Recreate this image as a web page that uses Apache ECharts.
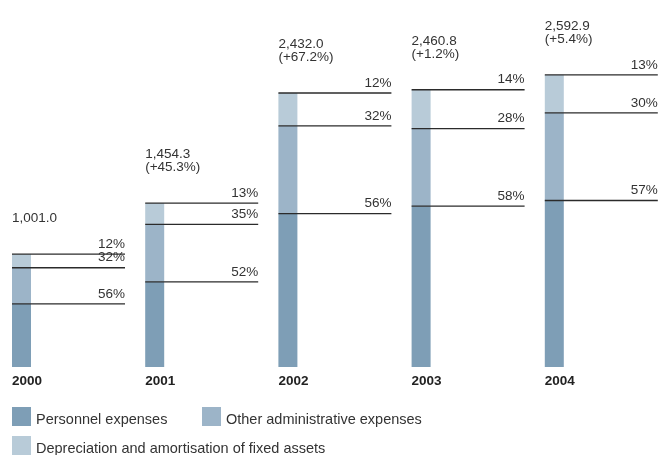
<!DOCTYPE html>
<html>
<head>
<meta charset="utf-8">
<title>Operating expenses 2000–2004</title>
<script src="https://cdn.jsdelivr.net/npm/echarts@6/dist/echarts.min.js"></script>
<style>
  html, body { margin: 0; padding: 0; background: #ffffff; }
  #chart { width: 659px; height: 455px; }
</style>
</head>
<body>
<div id="chart"></div>
<script>
// Years shown under the bars
const years = ['2000', '2001', '2002', '2003', '2004'];
// Total operating expenses per year
const totals = [1001.0, 1454.3, 2432.0, 2460.8, 2592.9];
// Year-on-year change of the total, in percent (none for the first year)
const growth = [null, 45.3, 67.2, 1.2, 5.4];
// Share of each component in the total, in percent
const personnelPct = [56, 52, 56, 58, 57];
const otherPct = [32, 35, 32, 28, 30];
const deprPct = [12, 13, 12, 14, 13];

const seriesNames = [
  'Personnel expenses',
  'Other administrative expenses',
  'Depreciation and amortisation of fixed assets'
];
const colors = ['#7e9eb6', '#9cb4c8', '#b8cbd8'];

const FONT = "'Liberation Sans', Arial, sans-serif";
const TEXT = '#333333';
const BAR_W = 19;
const LINE_LEN = 113;

// Stack the three components: [x, bottom, top, pct]
const shares = [personnelPct, otherPct, deprPct];
const stacked = shares.map(() => []);
totals.forEach((t, i) => {
  let base = 0;
  shares.forEach((arr, k) => {
    const v = t * arr[i] / 100;
    stacked[k].push([i, base, base + v, arr[i]]);
    base += v;
  });
});

function segmentRenderer(color) {
  return function (params, api) {
    const x = api.value(0);
    const lo = api.coord([x, api.value(1)]);
    const hi = api.coord([x, api.value(2)]);
    const pct = api.value(3);
    return {
      type: 'group',
      children: [
        {
          type: 'rect',
          z2: 1,
          shape: { x: lo[0], y: hi[1], width: BAR_W, height: lo[1] - hi[1] },
          style: { fill: color }
        },
        {
          type: 'line',
          z2: 10,
          shape: { x1: lo[0], y1: hi[1], x2: lo[0] + LINE_LEN, y2: hi[1] },
          style: { stroke: '#2b2b2b', lineWidth: 1.3 }
        },
        {
          type: 'text',
          z2: 10,
          style: {
            text: pct + '%',
            x: lo[0] + LINE_LEN,
            y: hi[1] - 3,
            align: 'right',
            verticalAlign: 'bottom',
            fill: TEXT,
            fontSize: 13.5,
            fontFamily: FONT
          }
        }
      ]
    };
  };
}

const fmtTotal = v => v.toLocaleString('en-US', { minimumFractionDigits: 1, maximumFractionDigits: 1 });
const totalData = totals.map((t, i) => [i, t]);

function totalRenderer(params, api) {
  const x = api.value(0);
  const p = api.coord([x, api.value(1)]);
  const g = growth[params.dataIndex];
  const text = fmtTotal(totals[params.dataIndex]) +
    (g == null ? '' : '\n(+' + g.toFixed(1) + '%)');
  return {
    type: 'text',
    style: {
      text: text,
      x: p[0],
      y: p[1] - 29,
      align: 'left',
      verticalAlign: 'bottom',
      lineHeight: 13,
      fill: TEXT,
      fontSize: 13.5,
      fontFamily: FONT
    }
  };
}

const legendBase = {
  itemWidth: 19,
  itemHeight: 19,
  padding: 0,
  icon: 'rect',
  selectedMode: false,
  formatter: name => '{t|' + name + '}',
  textStyle: {
    color: TEXT,
    fontSize: 14.5,
    fontFamily: FONT,
    rich: {
      t: { color: TEXT, fontSize: 14.5, fontFamily: FONT, padding: [7, 0, 0, 0] }
    }
  }
};

const chart = echarts.init(document.getElementById('chart'), null, { renderer: 'canvas' });
chart.setOption({
  animation: false,
  backgroundColor: '#ffffff',
  grid: { left: 12, width: 666, top: 29, height: 338, outerBoundsMode: 'none', containLabel: false },
  legend: [
    Object.assign({}, legendBase, { data: [seriesNames[0]], left: 12, top: 407 }),
    Object.assign({}, legendBase, { data: [seriesNames[1]], left: 202, top: 407 }),
    Object.assign({}, legendBase, { data: [seriesNames[2]], left: 12, top: 436 })
  ],
  xAxis: {
    type: 'value',
    min: 0,
    max: 5,
    interval: 1,
    axisLine: { show: false },
    axisTick: { show: false },
    splitLine: { show: false },
    axisLabel: {
      align: 'left',
      margin: 7,
      color: '#222222',
      fontSize: 13.5,
      fontWeight: 'bold',
      fontFamily: FONT,
      formatter: v => (Number.isInteger(v) && years[v]) ? years[v] : ''
    }
  },
  yAxis: {
    type: 'value',
    min: 0,
    max: 3000,
    show: false
  },
  series: [
    ...seriesNames.map((name, k) => ({
      name: name,
      type: 'custom',
      renderItem: segmentRenderer(colors[k]),
      itemStyle: { color: colors[k] },
      encode: { x: 0, y: [1, 2] },
      data: stacked[k]
    })),
    {
      name: 'Total',
      type: 'custom',
      renderItem: totalRenderer,
      encode: { x: 0, y: 1 },
      data: totalData
    }
  ]
});
</script>
</body>
</html>
